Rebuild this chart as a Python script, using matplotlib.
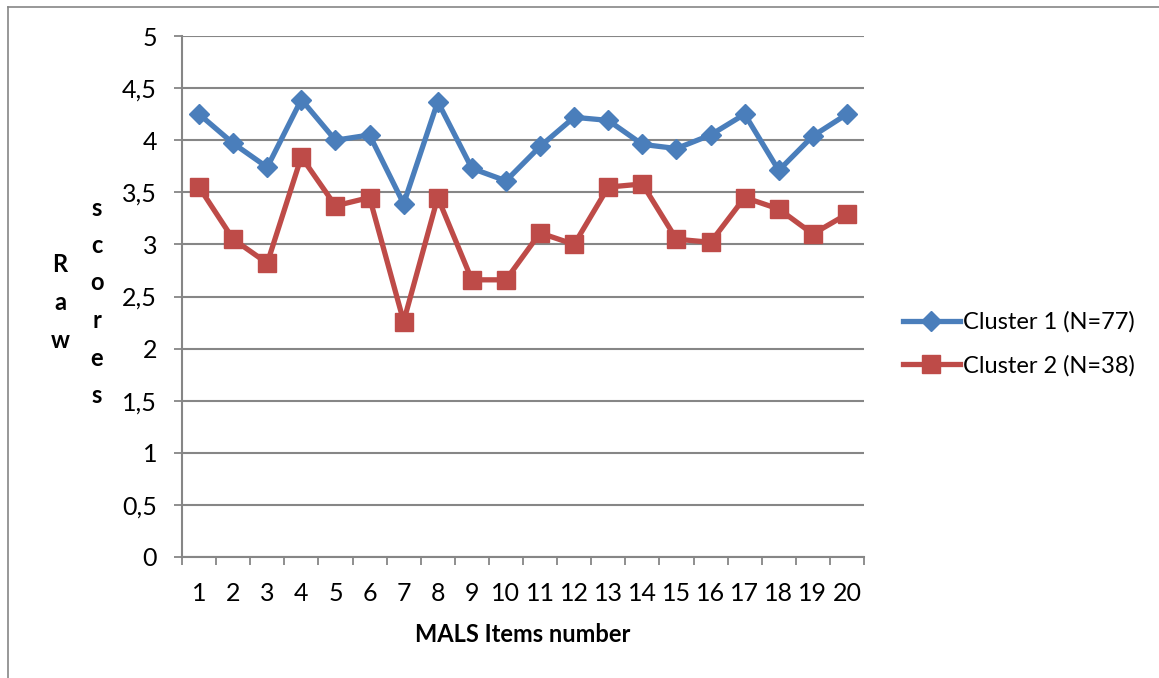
import matplotlib.pyplot as plt
from matplotlib.lines import Line2D
import numpy as np

plt.rcParams['font.family'] = ['Lato', 'DejaVu Sans']

items = list(range(1, 21))
cluster1 = [4.25, 3.97, 3.74, 4.39, 4.00, 4.05, 3.39, 4.37, 3.73, 3.61,
            3.94, 4.22, 4.19, 3.96, 3.92, 4.05, 4.25, 3.71, 4.04, 4.25]
cluster2 = [3.55, 3.05, 2.82, 3.84, 3.37, 3.45, 2.26, 3.45, 2.66, 2.66,
            3.11, 3.00, 3.55, 3.58, 3.05, 3.02, 3.45, 3.34, 3.10, 3.29]
labels = ['Cluster 1 (N=77)', 'Cluster 2 (N=38)']
yticks = [0, 0.5, 1, 1.5, 2, 2.5, 3, 3.5, 4, 4.5, 5]

blue = '#4A7EBB'
red = '#BE4B48'
grey = '#868686'
fs = 17
tfs = 18

fig = plt.figure(figsize=(11.59, 6.78), dpi=100)
ax = fig.add_axes([182/1159, 1 - 557/678, (864-182)/1159, (557-36)/678])

ax.plot(items, cluster1, color=blue, lw=3.8, marker='D', ms=10, label=labels[0])
ax.plot(items, cluster2, color=red, lw=3.8, marker='s', ms=13.5, label=labels[1])

ax.set_xlim(0.5, 20.5)
ax.set_ylim(0, 5)
ax.set_yticks(yticks)
ax.set_yticklabels([('%g' % v).replace('.', ',') for v in yticks])
ax.set_xticks(items)
ax.set_xticks(np.arange(0.5, 21, 1), minor=True)
ax.tick_params(axis='x', which='major', length=0, pad=18, labelsize=tfs)
ax.tick_params(axis='x', which='minor', length=6, width=1.3, color=grey, direction='out')
ax.tick_params(axis='y', length=6, width=1.3, color=grey, pad=12, labelsize=tfs)

ax.grid(axis='y', color=grey, lw=1.5)
ax.set_axisbelow(True)
for s in ['top', 'right']:
    ax.spines[s].set_visible(False)
for s in ['left', 'bottom']:
    ax.spines[s].set_color(grey)
    ax.spines[s].set_linewidth(1.5)

ax.set_xlabel('MALS Items number', fontsize=fs, fontweight='bold', labelpad=13)

# stacked letters of the y label
for i, ch in enumerate('Raw'):
    fig.text(60/1159, 1 - (265 + 37.5*i)/678, ch, fontsize=fs, fontweight='bold',
             ha='center', va='center')
for i, ch in enumerate('scores'):
    fig.text(97/1159, 1 - (208 + 37.5*i)/678, ch, fontsize=fs, fontweight='bold',
             ha='center', va='center')

ax.legend(loc='center left', bbox_to_anchor=(903/1159, 1 - 344/678),
          bbox_transform=fig.transFigure, frameon=False, fontsize=fs,
          handlelength=2.4, handletextpad=0.15, labelspacing=0.95, borderpad=0,
          borderaxespad=0)

# outer frame
fig.add_artist(Line2D([8/1159, 8/1159], [0, 1 - 7/678], color=grey, lw=1.2))
fig.add_artist(Line2D([8/1159, 1], [1 - 7/678, 1 - 7/678], color=grey, lw=1.2))

fig.savefig('out.png', dpi=100)
